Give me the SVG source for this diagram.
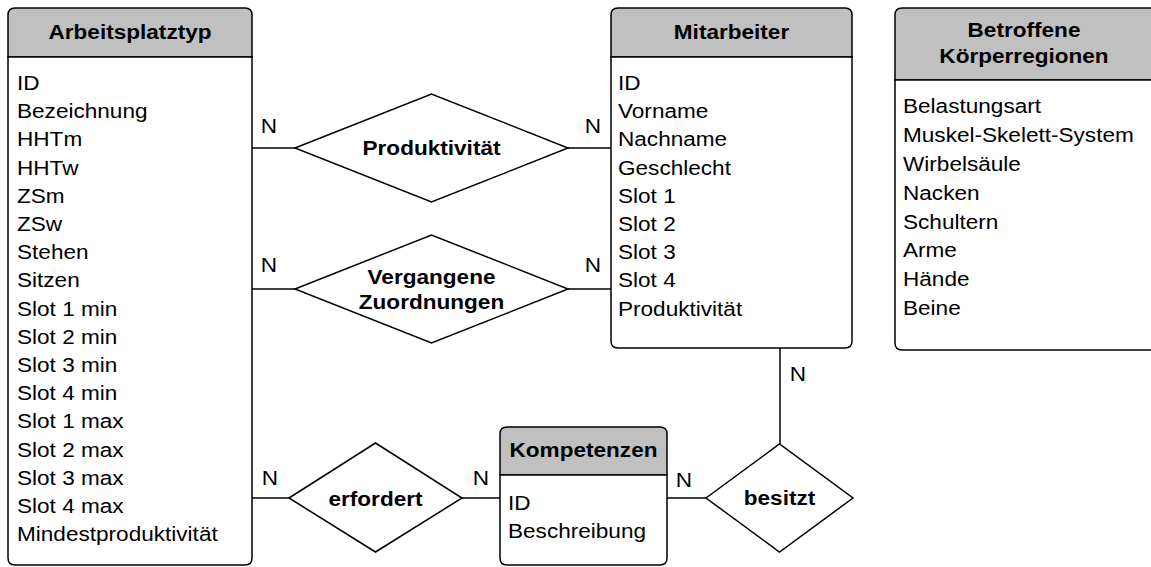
<svg xmlns="http://www.w3.org/2000/svg" width="1151" height="567" viewBox="0 0 1151 567">
<style>
.box{fill:#fff;stroke:#000;stroke-width:1.5}
.hdr{fill:#c0c0c0;stroke:#000;stroke-width:1.5}
.dia{fill:#fff;stroke:#000;stroke-width:1.5}
.ln{stroke:#000;stroke-width:1.5;fill:none}
text{font-family:"Liberation Sans",Arial,sans-serif;font-size:21px;fill:#000}
.b{font-weight:bold;text-anchor:middle}
.m{text-anchor:middle}
</style>
<rect width="1151" height="567" fill="#fff"/>
<g id="connectors">
<line class="ln" x1="252" y1="148" x2="295" y2="148"/>
<line class="ln" x1="568" y1="148" x2="611" y2="148"/>
<line class="ln" x1="252" y1="289" x2="295" y2="289"/>
<line class="ln" x1="568" y1="289" x2="611" y2="289"/>
<line class="ln" x1="252" y1="498" x2="289" y2="498"/>
<line class="ln" x1="462" y1="498" x2="500" y2="498"/>
<line class="ln" x1="667" y1="498" x2="706" y2="498"/>
<line class="ln" x1="780" y1="348" x2="780" y2="444"/>
<text class="m" transform="translate(269,133) scale(1.075,1)">N</text>
<text class="m" transform="translate(593,133) scale(1.075,1)">N</text>
<text class="m" transform="translate(269,272) scale(1.075,1)">N</text>
<text class="m" transform="translate(593,272) scale(1.075,1)">N</text>
<text class="m" transform="translate(270,485) scale(1.075,1)">N</text>
<text class="m" transform="translate(481,485) scale(1.075,1)">N</text>
<text class="m" transform="translate(684,487) scale(1.075,1)">N</text>
<text class="m" transform="translate(798,381) scale(1.075,1)">N</text>
</g>
<g id="arbeitsplatztyp">
<path class="hdr" d="M8,57 V15 Q8,8 15,8 H245 Q252,8 252,15 V57 Z"/>
<path class="box" d="M8,57 H252 V558 Q252,565 245,565 H15 Q8,565 8,558 Z"/>
<text class="b" transform="translate(130,39) scale(1.075,1)">Arbeitsplatztyp</text>
<g transform="translate(17,0) scale(1.075,1)">
<text x="0" y="90">ID</text>
<text x="0" y="118.2">Bezeichnung</text>
<text x="0" y="146.4">HHTm</text>
<text x="0" y="174.6">HHTw</text>
<text x="0" y="202.8">ZSm</text>
<text x="0" y="231">ZSw</text>
<text x="0" y="259.2">Stehen</text>
<text x="0" y="287.4">Sitzen</text>
<text x="0" y="315.6">Slot 1 min</text>
<text x="0" y="343.8">Slot 2 min</text>
<text x="0" y="372">Slot 3 min</text>
<text x="0" y="400.2">Slot 4 min</text>
<text x="0" y="428.4">Slot 1 max</text>
<text x="0" y="456.6">Slot 2 max</text>
<text x="0" y="484.8">Slot 3 max</text>
<text x="0" y="513">Slot 4 max</text>
<text x="0" y="541.2">Mindestproduktivität</text>
</g>
</g>
<g id="mitarbeiter">
<path class="hdr" d="M611,57 V15 Q611,8 618,8 H845 Q852,8 852,15 V57 Z"/>
<path class="box" d="M611,57 H852 V341 Q852,348 845,348 H618 Q611,348 611,341 Z"/>
<text class="b" transform="translate(731.5,39) scale(1.075,1)">Mitarbeiter</text>
<g transform="translate(618,0) scale(1.075,1)">
<text x="0" y="90">ID</text>
<text x="0" y="118.2">Vorname</text>
<text x="0" y="146.4">Nachname</text>
<text x="0" y="174.6">Geschlecht</text>
<text x="0" y="202.8">Slot 1</text>
<text x="0" y="231">Slot 2</text>
<text x="0" y="259.2">Slot 3</text>
<text x="0" y="287.4">Slot 4</text>
<text x="0" y="315.6">Produktivität</text>
</g>
</g>
<g id="betroffene">
<path class="hdr" d="M895,80 V15 Q895,8 902,8 H1160 V80 Z"/>
<path class="box" d="M895,80 H1160 V350 H902 Q895,350 895,343 Z"/>
<text class="b" transform="translate(1024,37) scale(1.075,1)">Betroffene</text>
<text class="b" transform="translate(1024,63) scale(1.075,1)">Körperregionen</text>
<g transform="translate(903,0) scale(1.075,1)">
<text x="0" y="113">Belastungsart</text>
<text x="0" y="141.9">Muskel-Skelett-System</text>
<text x="0" y="170.8">Wirbelsäule</text>
<text x="0" y="199.7">Nacken</text>
<text x="0" y="228.6">Schultern</text>
<text x="0" y="257.5">Arme</text>
<text x="0" y="286.4">Hände</text>
<text x="0" y="315.3">Beine</text>
</g>
</g>
<g id="kompetenzen">
<path class="hdr" d="M500,475 V434 Q500,427 507,427 H660 Q667,427 667,434 V475 Z"/>
<path class="box" d="M500,475 H667 V558 Q667,565 660,565 H507 Q500,565 500,558 Z"/>
<text class="b" transform="translate(583.5,457) scale(1.075,1)">Kompetenzen</text>
<g transform="translate(508,0) scale(1.075,1)">
<text x="0" y="510">ID</text>
<text x="0" y="538.2">Beschreibung</text>
</g>
</g>
<g id="produktivitaet">
<polygon class="dia" points="295,148 431.5,94 568,148 431.5,202"/>
<text class="b" transform="translate(431.5,155) scale(1.075,1)">Produktivität</text>
</g>
<g id="vergangene-zuordnungen">
<polygon class="dia" points="295,289 431.5,235 568,289 431.5,343"/>
<text class="b" transform="translate(431.5,284) scale(1.075,1)">Vergangene</text>
<text class="b" transform="translate(431.5,309) scale(1.075,1)">Zuordnungen</text>
</g>
<g id="erfordert">
<polygon class="dia" points="289,498 375.5,443 462,498 375.5,552"/>
<text class="b" transform="translate(375.5,506) scale(1.075,1)">erfordert</text>
</g>
<g id="besitzt">
<polygon class="dia" points="706,498 779.5,444 853,498 779.5,552"/>
<text class="b" transform="translate(779.5,505) scale(1.075,1)">besitzt</text>
</g>
</svg>
